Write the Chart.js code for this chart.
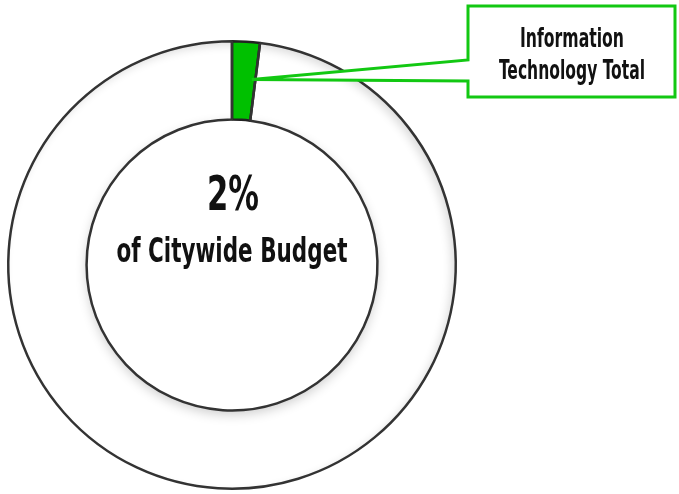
<!DOCTYPE html>
<html lang="en">
<head>
  <meta charset="UTF-8">
  <title>Information Technology Total</title>
  <style>
    html, body { margin: 0; padding: 0; background: #fff; overflow: hidden; }
    .budget-chart { position: relative; width: 679px; height: 510px; }
  </style>
</head>
<body>
  <div class="budget-chart"><canvas id="budget-chart"></canvas></div>
  <script src="https://cdn.jsdelivr.net/npm/chart.js"></script>
  <script>
    // share of the citywide budget (percent)
    const categories = ['Information Technology Total', 'Rest of Citywide Budget'];
    const shares = [2, 98];
    const centerLabel = '2%';
    const centerCaption = 'of Citywide Budget';
    const calloutLines = ['Information', 'Technology Total'];

    const GREEN = '#00c000';
    const EDGE = '#333333';
    const FONT = '"Liberation Sans Narrow", "DejaVu Sans Condensed", "Roboto Condensed", sans-serif';

    // draws text squeezed to a given width (condensed display face)
    function fitText(ctx, text, cx, baseline, size, width) {
      ctx.save();
      ctx.font = 'bold ' + size + 'px ' + FONT;
      const w = ctx.measureText(text).width;
      ctx.translate(cx, baseline);
      ctx.scale(width / w, 1);
      ctx.textAlign = 'center';
      ctx.textBaseline = 'alphabetic';
      ctx.fillText(text, 0, 0);
      ctx.restore();
    }

    // soft shading inside the ring, under the dataset
    const ringShade = {
      id: 'ringShade',
      beforeDatasetsDraw(chart) {
        const arc = chart.getDatasetMeta(0).data[0];
        if (!arc) return;
        const { x, y, innerRadius, outerRadius } = arc.getProps(['x', 'y', 'innerRadius', 'outerRadius'], true);
        const ctx = chart.ctx;
        ctx.save();
        ctx.beginPath();
        ctx.arc(x, y, outerRadius, 0, Math.PI * 2);
        ctx.arc(x, y, innerRadius, 0, Math.PI * 2, true);
        ctx.clip();

        // inner disc casting a shadow outward
        ctx.shadowColor = 'rgba(0,0,0,0.2)';
        ctx.shadowBlur = 12;
        ctx.shadowOffsetY = 4;
        ctx.fillStyle = '#fff';
        ctx.beginPath();
        ctx.arc(x, y, innerRadius, 0, Math.PI * 2);
        ctx.fill();

        // inner shadow along the outer edge
        ctx.shadowColor = 'rgba(0,0,0,0.14)';
        ctx.shadowBlur = 10;
        ctx.shadowOffsetX = -4;
        ctx.shadowOffsetY = 4;
        ctx.beginPath();
        ctx.rect(x - outerRadius - 60, y - outerRadius - 60, outerRadius * 2 + 120, outerRadius * 2 + 120);
        ctx.arc(x, y, outerRadius, 0, Math.PI * 2, true);
        ctx.fill();
        ctx.restore();
      }
    };

    // centre label and callout box
    const annotations = {
      id: 'annotations',
      afterDraw(chart) {
        const ctx = chart.ctx;
        const arc = chart.getDatasetMeta(0).data[0];
        const { x, y, startAngle, endAngle, innerRadius, outerRadius } =
          arc.getProps(['x', 'y', 'startAngle', 'endAngle', 'innerRadius', 'outerRadius'], true);

        ctx.fillStyle = '#111';
        fitText(ctx, centerLabel, x + 1, 210, 48, 52);
        fitText(ctx, centerCaption, x, 262, 33, 231);

        // callout pointing at the slice
        const a = startAngle + (endAngle - startAngle) * 0.85;
        const r = (innerRadius + outerRadius) / 2 + 2;
        const tipX = x + Math.cos(a) * r;
        const tipY = y + Math.sin(a) * r;
        const left = 468, top = 6, right = 675, bottom = 97;

        ctx.save();
        ctx.beginPath();
        ctx.moveTo(left, top);
        ctx.lineTo(right, top);
        ctx.lineTo(right, bottom);
        ctx.lineTo(left, bottom);
        ctx.lineTo(left, 81);
        ctx.lineTo(tipX, tipY);
        ctx.lineTo(left, 60);
        ctx.closePath();
        ctx.fillStyle = '#fff';
        ctx.fill();
        ctx.lineWidth = 3;
        ctx.lineJoin = 'miter';
        ctx.strokeStyle = '#12c812';
        ctx.stroke();
        ctx.restore();

        ctx.fillStyle = '#111';
        fitText(ctx, calloutLines[0], 572, 47, 26, 104);
        fitText(ctx, calloutLines[1], 572, 79, 26, 146);
      }
    };

    new Chart(document.getElementById('budget-chart'), {
      type: 'doughnut',
      data: {
        labels: categories,
        datasets: [{
          data: shares,
          backgroundColor: [GREEN, 'rgba(255,255,255,0)'],
          borderColor: ['#222', EDGE],
          borderWidth: 2.5,
          hoverOffset: 0
        }]
      },
      options: {
        responsive: true,
        maintainAspectRatio: false,
        animation: false,
        cutout: '65%',
        layout: { padding: { left: 7, top: 40, right: 222, bottom: 20 } },
        plugins: {
          legend: { display: false },
          tooltip: { enabled: false }
        }
      },
      plugins: [ringShade, annotations]
    });
  </script>
</body>
</html>
